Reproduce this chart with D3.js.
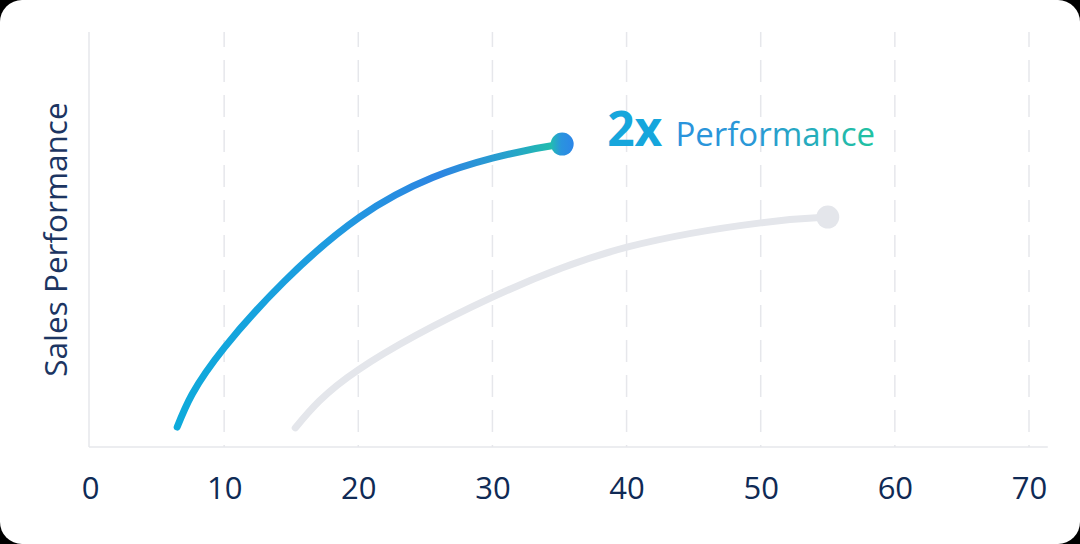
<!DOCTYPE html>
<html>
<head>
<meta charset="utf-8">
<script src="https://cdn.jsdelivr.net/npm/d3@7"></script>
<style>
  html, body { margin: 0; padding: 0; background: #000; }
  #chart { width: 1080px; height: 544px; background: #fff; border-radius: 22px; overflow: hidden; }
  text { font-family: "Open Sans", "Noto Sans", sans-serif; }
</style>
</head>
<body>
<div id="chart"></div>
<script>
// ticks on the x axis
var xTicks = [0, 10, 20, 30, 40, 50, 60, 70]

// the highlighted curve (gradient)
var boostX = [6.5, 10.0, 20.1, 30.0, 35.2]
var boostY = [4.8, 23.9, 55.4, 69.6, 73.0]

// the baseline curve (gray)
var baseX = [15.3, 20.0, 30.0, 40.1, 50.0, 55.0]
var baseY = [4.6, 18.6, 36.1, 48.2, 54.0, 55.4]

var yLabel = "Sales Performance"
var badgeBig = "2x"
var badgeText = "Performance"

var margin = {top: 32, right: 51, bottom: 97, left: 90},
    width = 1080 - margin.left - margin.right,
    height = 544 - margin.top - margin.bottom;

var svg = d3.select("#chart").append("svg")
    .attr("width", 1080)
    .attr("height", 544)

var defs = svg.append("defs")

var g = svg.append("g")
    .attr("transform", "translate(" + margin.left + "," + margin.top + ")");

var x = d3.scaleLinear().domain([0, 70]).range([0, width])
var y = d3.scaleLinear().domain([0, 100]).range([height, 0])

// dashed vertical grid
g.append("g")
  .selectAll("line")
  .data(xTicks.filter(d => d > 0))
  .enter().append("line")
    .attr("x1", d => x(d)).attr("x2", d => x(d))
    .attr("y1", y(100)).attr("y2", y(0))
    .attr("stroke", "#e6e7eb")
    .attr("stroke-width", 1.5)
    .attr("stroke-dasharray", "22 13")
    .attr("stroke-dashoffset", 7)

// left + bottom axis lines
g.append("line")
  .attr("x1", x(0) - 1).attr("x2", x(0) - 1)
  .attr("y1", y(100)).attr("y2", y(0))
  .attr("stroke", "#e6e7eb").attr("stroke-width", 1.5)

g.append("line")
  .attr("x1", x(0) - 1).attr("x2", x(71.4))
  .attr("y1", y(0)).attr("y2", y(0))
  .attr("stroke", "#e6e7eb").attr("stroke-width", 1.5)

// bottom tick labels
var xAxis = g.append("g")
  .attr("transform", "translate(0," + height + ")")
  .call(d3.axisBottom(x).tickValues(xTicks).tickSize(0).tickPadding(30).tickFormat(d3.format("d")))
xAxis.select(".domain").remove()
xAxis.selectAll("text")
  .attr("font-family", "'Open Sans', 'Noto Sans', sans-serif")
  .attr("font-size", 31)
  .attr("fill", "#0f2a55")
  .attr("dy", "0.71em")

// y label
g.append("text")
  .attr("transform", "translate(" + (-23) + "," + y(50) + ") rotate(-90)")
  .attr("text-anchor", "middle")
  .attr("font-size", 31.5)
  .attr("fill", "#1c3562")
  .text(yLabel)

// gradients
var lineGrad = defs.append("linearGradient")
  .attr("id", "lineGrad")
  .attr("gradientUnits", "userSpaceOnUse")
  .attr("x1", x(boostX[0])).attr("x2", x(boostX[boostX.length - 1]))
  .attr("y1", 0).attr("y2", 0)
lineGrad.append("stop").attr("offset", "0%").attr("stop-color", "#0eaadb")
lineGrad.append("stop").attr("offset", "40%").attr("stop-color", "#1f9be0")
lineGrad.append("stop").attr("offset", "68%").attr("stop-color", "#2d85e2")
lineGrad.append("stop").attr("offset", "86%").attr("stop-color", "#27a2cc")
lineGrad.append("stop").attr("offset", "100%").attr("stop-color", "#1fc2a6")

var dotGrad = defs.append("linearGradient")
  .attr("id", "dotGrad")
  .attr("x1", "0%").attr("x2", "100%")
dotGrad.append("stop").attr("offset", "0%").attr("stop-color", "#22bdb0")
dotGrad.append("stop").attr("offset", "45%").attr("stop-color", "#2a94de")
dotGrad.append("stop").attr("offset", "100%").attr("stop-color", "#2c86e8")

var textGrad = defs.append("linearGradient")
  .attr("id", "textGrad")
  .attr("x1", "0%").attr("x2", "100%")
textGrad.append("stop").attr("offset", "0%").attr("stop-color", "#2a8fe2")
textGrad.append("stop").attr("offset", "55%").attr("stop-color", "#2a98d6")
textGrad.append("stop").attr("offset", "100%").attr("stop-color", "#21c3a0")

var line = d3.line()
  .x(d => x(d[0]))
  .y(d => y(d[1]))
  .curve(d3.curveNatural)

var baseData = d3.zip(baseX, baseY)
var boostData = d3.zip(boostX, boostY)

// gray curve
g.append("path")
  .datum(baseData)
  .attr("d", line)
  .attr("fill", "none")
  .attr("stroke", "#e4e6eb")
  .attr("stroke-width", 7)
  .attr("stroke-linecap", "round")

g.append("circle")
  .attr("cx", x(baseX[baseX.length - 1]))
  .attr("cy", y(baseY[baseY.length - 1]))
  .attr("r", 11.5)
  .attr("fill", "#e4e6eb")

// highlighted curve
g.append("path")
  .datum(boostData)
  .attr("d", line)
  .attr("fill", "none")
  .attr("stroke", "url(#lineGrad)")
  .attr("stroke-width", 7)
  .attr("stroke-linecap", "round")

g.append("circle")
  .attr("cx", x(boostX[boostX.length - 1]))
  .attr("cy", y(boostY[boostY.length - 1]))
  .attr("r", 11.5)
  .attr("fill", "url(#dotGrad)")

// annotation
var note = g.append("text")
  .attr("x", x(boostX[boostX.length - 1]) + 45)
  .attr("y", y(boostY[boostY.length - 1]) + 2)
note.append("tspan")
  .attr("font-size", 48)
  .attr("font-weight", 700)
  .attr("fill", "#16a6dc")
  .text(badgeBig)
note.append("tspan")
  .attr("dx", 13)
  .attr("font-size", 33)
  .attr("fill", "url(#textGrad)")
  .text(badgeText)
</script>
</body>
</html>
